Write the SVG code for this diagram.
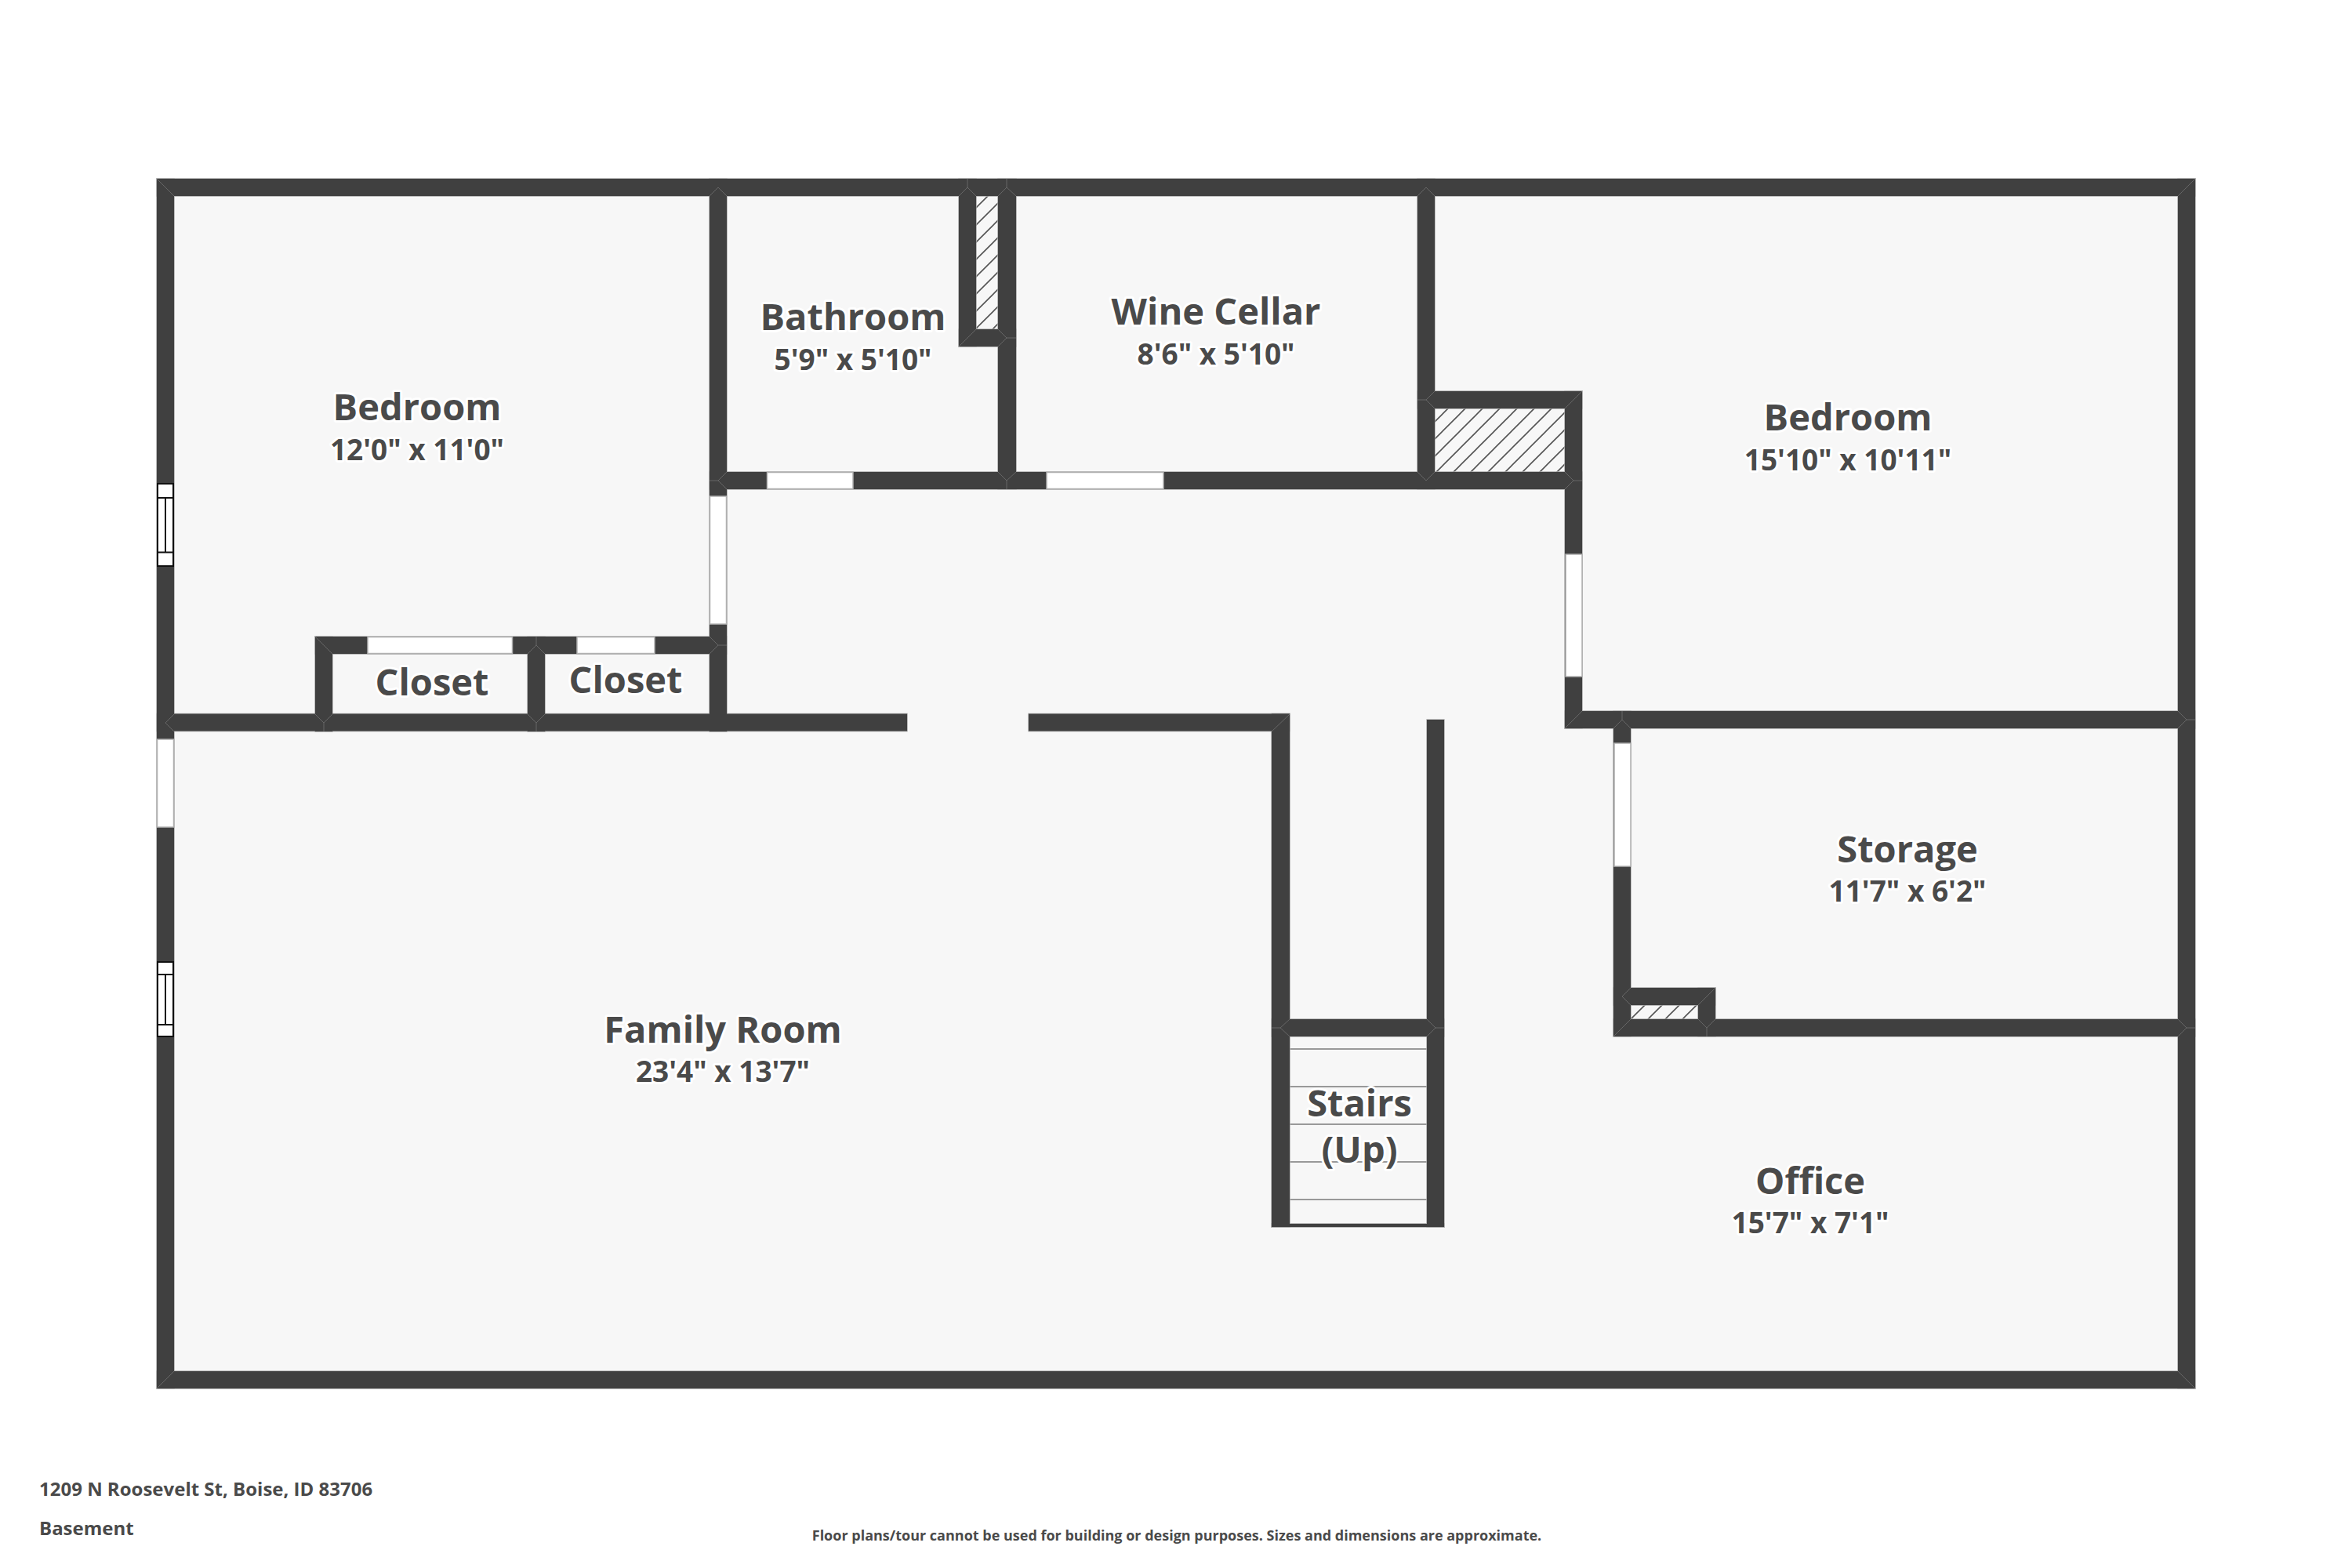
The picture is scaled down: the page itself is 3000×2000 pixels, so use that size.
<svg xmlns="http://www.w3.org/2000/svg" xmlns:xlink="http://www.w3.org/1999/xlink" width="3000" height="2000" viewBox="0 0 3000 2000">
<style>
text{font-family:"Open Sans","Noto Sans","Liberation Sans",sans-serif;fill:#4a4a4a;text-anchor:middle;font-weight:700;paint-order:stroke;stroke:#fff;stroke-linejoin:round}
.n{font-size:47px;stroke-width:6px}
.d{font-size:37px;stroke-width:6px}
.f{font-size:24px;text-anchor:start;stroke:none}
.s{font-size:18px;stroke:none}
.door{fill:#fff;stroke:#b0b0b0;stroke-width:1.5}
.win{fill:#fff;stroke:#111;stroke-width:2}
.tread{stroke:#999;stroke-width:2}
.mitre{fill:none;stroke:#666;stroke-width:1}
</style>
<defs>
<pattern id="hatch" width="22" height="22" patternUnits="userSpaceOnUse" patternTransform="translate(14 0)">
<path d="M-2 24L24 -2M-2 2L2 -2M20 24L24 20" stroke="#555" stroke-width="1.6" fill="none"/>
</pattern>
<g id="wallset">
<rect x="200" y="228" width="2600" height="22"/>
<rect x="200" y="1749" width="2600" height="22"/>
<rect x="200" y="228" width="22" height="1543"/>
<rect x="2778" y="228" width="22" height="1543"/>
<rect x="905" y="228" width="22" height="705"/>
<rect x="200" y="910.5" width="957" height="22"/>
<rect x="1312" y="910.5" width="333" height="22"/>
<rect x="402" y="812" width="525" height="22"/>
<rect x="402" y="812" width="22" height="121"/>
<rect x="673" y="812" width="22" height="121"/>
<rect x="905" y="602" width="1113" height="22"/>
<rect x="1223" y="228" width="22" height="214"/>
<rect x="1273" y="228" width="23" height="396"/>
<rect x="1223" y="420" width="73" height="22"/>
<rect x="1808" y="228" width="22" height="396"/>
<rect x="1808" y="499" width="210" height="22"/>
<rect x="1996" y="499" width="22" height="430"/>
<rect x="1996" y="907" width="804" height="22"/>
<rect x="2058" y="907" width="22" height="415"/>
<rect x="2058" y="1300" width="742" height="22"/>
<rect x="2058" y="1260" width="130" height="22"/>
<rect x="2166" y="1260" width="22" height="62"/>
<rect x="1622" y="910.5" width="23" height="654.5"/>
<rect x="1820" y="918" width="22" height="647"/>
<rect x="1622" y="1300" width="220" height="22"/>
<rect x="1622" y="1561" width="220" height="4"/>
</g>
</defs>
<rect width="3000" height="2000" fill="#fff"/>
<rect id="floor" x="200" y="228" width="2600" height="1543" fill="#f7f7f7"/>
<g id="hatching" fill="url(#hatch)">
<rect x="1245" y="250" width="28" height="170"/>
<rect x="1830" y="521" width="166" height="81"/>
<rect x="2080" y="1282" width="86" height="18"/>
</g>
<g id="stairs" class="tread">
<path d="M1645 1338H1820M1645 1386H1820M1645 1434H1820M1645 1482H1820M1645 1530H1820"/>
</g>
<use id="wall-edges" href="#wallset" fill="#aaa" stroke="#aaa" stroke-width="1.5"/>
<use id="walls" href="#wallset" fill="#404040"/>
<path id="wall-joints" class="mitre" d="M200 228L222 250M2800 228L2778 250M200 1771L222 1749M2800 1771L2778 1749
M905 250L916 239L927 250M1223 250L1234 239L1245 250M1234 239V228M1273 250L1284 239L1296 250M1284 239V228M1808 250L1819 239L1830 250
M222 911L211 922L222 933M402 911L413 922L424 911M413 922V933M673 911L684 922L695 911M684 922V933M402 812L424 834M673 834L684 823L695 834M684 823V812M905 812L916 823L905 834M916 823H927M927 602L916 613L927 624M916 613H905
M1273 602L1284 613L1296 602M1284 613V624M1245 420L1223 442M1273 420L1284 431L1273 442M1284 431H1296
M1830 499L1819 510L1830 521M1819 510H1808M1808 602L1819 613L1830 602M1996 521L2018 499M1996 602L2007 613L1996 624M2007 613H2018M2018 907L1996 929
M2058 929L2069 918L2080 929M2069 918V907M2778 907L2789 918L2778 929M2789 918H2800M2778 1300L2789 1311L2778 1322M2789 1311H2800
M2080 1260L2069 1271L2080 1282M2058 1322L2080 1300M2188 1260L2166 1282M2166 1300L2177 1311L2188 1300M2177 1311V1322
M1645 1300L1633 1311L1645 1322M1633 1311H1622M1820 1300L1831 1311L1820 1322M1831 1311H1842M1645 911L1622 933"/>
<g id="doors" class="door">
<rect x="905.5" y="633" width="21" height="163"/>
<rect x="200.5" y="943" width="21" height="112"/>
<rect x="1997" y="707" width="21" height="156"/>
<rect x="2059" y="948" width="21" height="157"/>
<rect x="469" y="812.5" width="184.5" height="21"/>
<rect x="736" y="812.5" width="99" height="21"/>
<rect x="978.5" y="602.5" width="109.5" height="21"/>
<rect x="1335" y="602.5" width="149" height="21"/>
</g>
<g id="windows" class="win">
<rect x="201" y="617" width="20" height="105"/>
<path d="M201 635H221M201 704.5H221M211 635V704.5"/>
<rect x="201" y="1227" width="20" height="95"/>
<path d="M201 1243H221M201 1307H221M211 1243V1307"/>
</g>
<g id="room-bedroom-1"><text class="n" x="532" y="536">Bedroom</text><text class="d" x="532" y="587">12'0" x 11'0"</text></g>
<g id="room-bathroom"><text class="n" x="1088" y="421">Bathroom</text><text class="d" x="1088" y="472">5'9" x 5'10"</text></g>
<g id="room-wine-cellar"><text class="n" x="1551" y="414">Wine Cellar</text><text class="d" x="1551" y="465">8'6" x 5'10"</text></g>
<g id="room-bedroom-2"><text class="n" x="2357" y="549">Bedroom</text><text class="d" x="2357" y="600">15'10" x 10'11"</text></g>
<g id="room-closet-1"><text class="n" x="551" y="887">Closet</text></g>
<g id="room-closet-2"><text class="n" x="798" y="884">Closet</text></g>
<g id="room-storage"><text class="n" x="2433" y="1100">Storage</text><text class="d" x="2433" y="1150">11'7" x 6'2"</text></g>
<g id="room-family"><text class="n" x="922" y="1330">Family Room</text><text class="d" x="922" y="1380">23'4" x 13'7"</text></g>
<g id="room-stairs"><text class="n" x="1734" y="1424">Stairs</text><text class="n" x="1734" y="1483">(Up)</text></g>
<g id="room-office"><text class="n" x="2309" y="1523">Office</text><text class="d" x="2309" y="1573">15'7" x 7'1"</text></g>
<g id="footer">
<text class="f" x="50" y="1908">1209 N Roosevelt St, Boise, ID 83706</text>
<text class="f" x="50" y="1958">Basement</text>
<text class="s" x="1501" y="1965">Floor plans/tour cannot be used for building or design purposes. Sizes and dimensions are approximate.</text>
</g>
</svg>
